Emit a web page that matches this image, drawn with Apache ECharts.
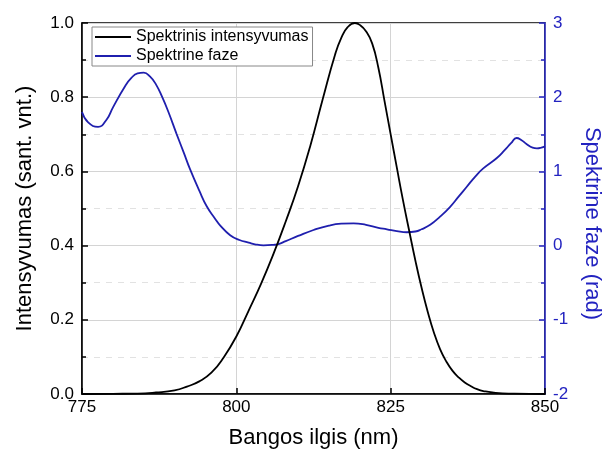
<!DOCTYPE html>
<html>
<head>
<meta charset="utf-8">
<script src="https://cdn.jsdelivr.net/npm/echarts@6/dist/echarts.min.js"></script>
<style>html,body{margin:0;padding:0;background:#fff}#c{width:606px;height:461px}</style>
</head>
<body>
<div id="c"></div>
<script>
// Spektrinis intensyvumas (wavelength nm, intensity)
const intWl  = [775, 780, 784, 787, 790, 792, 794, 796, 798, 800, 802, 804, 806, 808, 810, 812, 814, 816, 817, 818, 819.2, 820, 821, 822, 823, 824, 825, 826, 827, 828, 829, 830, 831, 832, 833, 834, 835, 836, 837, 838, 839, 840, 842, 845, 850];
const intVal = [0, 0.0005, 0.001, 0.004, 0.01, 0.02, 0.034, 0.058, 0.10, 0.155, 0.225, 0.297, 0.377, 0.465, 0.56, 0.67, 0.795, 0.915, 0.96, 0.988, 1.0, 0.995, 0.978, 0.945, 0.88, 0.79, 0.70, 0.61, 0.522, 0.44, 0.36, 0.287, 0.222, 0.166, 0.121, 0.088, 0.063, 0.045, 0.031, 0.021, 0.013, 0.008, 0.003, 0.001, 0];
// Spektrine faze (wavelength nm, phase rad)
const phWl  = [775, 776, 777.6, 779, 780, 782, 783, 784, 785, 786, 787, 788, 789, 790.3, 791.5, 792.5, 794, 795.2, 796.5, 797.4, 799, 800.5, 802, 803, 804.4, 806, 806.8, 808, 810, 812.5, 815, 817, 819, 821, 823, 824.4, 826, 827.6, 829, 830, 831.4, 833, 834.6, 836, 837.3, 838.7, 840, 842.2, 843.5, 844.5, 845.4, 846.2, 847, 848, 848.7, 849.4, 850];
const phVal = [1.80, 1.66, 1.60, 1.70, 1.86, 2.15, 2.26, 2.32, 2.33, 2.28, 2.17, 2.0, 1.80, 1.51, 1.25, 1.03, 0.74, 0.53, 0.37, 0.27, 0.14, 0.075, 0.04, 0.018, 0.004, 0.01, 0.02, 0.06, 0.13, 0.21, 0.27, 0.295, 0.30, 0.28, 0.24, 0.22, 0.195, 0.18, 0.19, 0.22, 0.28, 0.39, 0.52, 0.66, 0.79, 0.93, 1.04, 1.18, 1.29, 1.38, 1.45, 1.42, 1.37, 1.32, 1.31, 1.32, 1.34];

const seriesNames = ['Spektrinis intensyvumas', 'Spektrine faze'];
const blue = '#1f1fae';
const axisBlue = '#2323c0';
const font = 'Liberation Sans, Arial, sans-serif';

const chart = echarts.init(document.getElementById('c'), null, {renderer: 'canvas'});
chart.setOption({
  animation: false,
  backgroundColor: '#fff',
  grid: {left: 82, right: 61, top: 23, bottom: 67, containLabel: false, outerBoundsMode: 'none', show: true, borderColor: '#000', borderWidth: 1.5, backgroundColor: 'transparent'},
  legend: {
    show: true, orient: 'vertical', left: 92, top: 27,
    data: seriesNames.map(n => ({name: n, icon: 'rect'})),
    itemWidth: 36, itemHeight: 2, itemGap: 3,
    padding: [2, 4, 2, 3],
    borderColor: '#888', borderWidth: 1, backgroundColor: '#fff',
    textStyle: {fontFamily: font, fontSize: 16, color: '#000'}
  },
  xAxis: {
    type: 'value', min: 775, max: 850, interval: 25,
    name: 'Bangos ilgis (nm)', nameLocation: 'middle', nameGap: 33,
    nameTextStyle: {fontFamily: font, fontSize: 22, color: '#000'},
    axisLine: {onZero: false, lineStyle: {color: '#000', width: 1.5}},
    axisTick: {inside: true, length: 6, lineStyle: {color: '#000', width: 1.5}},
    axisLabel: {fontFamily: font, fontSize: 17, color: '#000', margin: 5},
    splitLine: {show: true, lineStyle: {color: '#d4d4d4', width: 1}}
  },
  yAxis: [{
    type: 'value', min: 0, max: 1, interval: 0.2, position: 'left',
    name: 'Intensyvumas (sant. vnt.)', nameLocation: 'middle', nameGap: 46,
    nameTextStyle: {fontFamily: font, fontSize: 22, color: '#000'},
    axisLine: {show: true, lineStyle: {color: '#000', width: 1.5}},
    axisTick: {inside: true, length: 6, lineStyle: {color: '#000', width: 1.5}},
    minorTick: {show: true, splitNumber: 2, length: 4, lineStyle: {color: '#000', width: 1.5}},
    axisLabel: {fontFamily: font, fontSize: 17, color: '#000', margin: 8, formatter: v => v.toFixed(1)},
    splitLine: {show: true, lineStyle: {color: '#d4d4d4', width: 1}},
    minorSplitLine: {show: true, lineStyle: {color: '#e2e2e2', width: 1, type: [6, 6]}}
  }, {
    type: 'value', min: -2, max: 3, interval: 1, position: 'right',
    name: 'Spektrine faze (rad)', nameLocation: 'middle', nameGap: 36, nameRotate: -90,
    nameTextStyle: {fontFamily: font, fontSize: 22, color: axisBlue, padding: [0, 0, 0, 30]},
    axisLine: {show: true, lineStyle: {color: axisBlue, width: 1.5}},
    axisTick: {inside: true, length: 6, lineStyle: {color: axisBlue, width: 1.5}},
    minorTick: {show: true, splitNumber: 2, length: 4, lineStyle: {color: axisBlue, width: 1.5}},
    axisLabel: {fontFamily: font, fontSize: 17, color: axisBlue, margin: 8},
    splitLine: {show: false}
  }],
  series: [{
    name: seriesNames[0], type: 'line', yAxisIndex: 0, showSymbol: false, symbol: 'none',
    smooth: 0.5, data: intWl.map((x, i) => [x, intVal[i]]),
    lineStyle: {color: '#000', width: 1.8}, itemStyle: {color: '#000'}, z: 3
  }, {
    name: seriesNames[1], type: 'line', yAxisIndex: 1, showSymbol: false, symbol: 'none',
    smooth: 0.5, data: phWl.map((x, i) => [x, phVal[i]]),
    lineStyle: {color: blue, width: 1.8}, itemStyle: {color: blue}, z: 2
  }]
});
</script>
</body>
</html>
